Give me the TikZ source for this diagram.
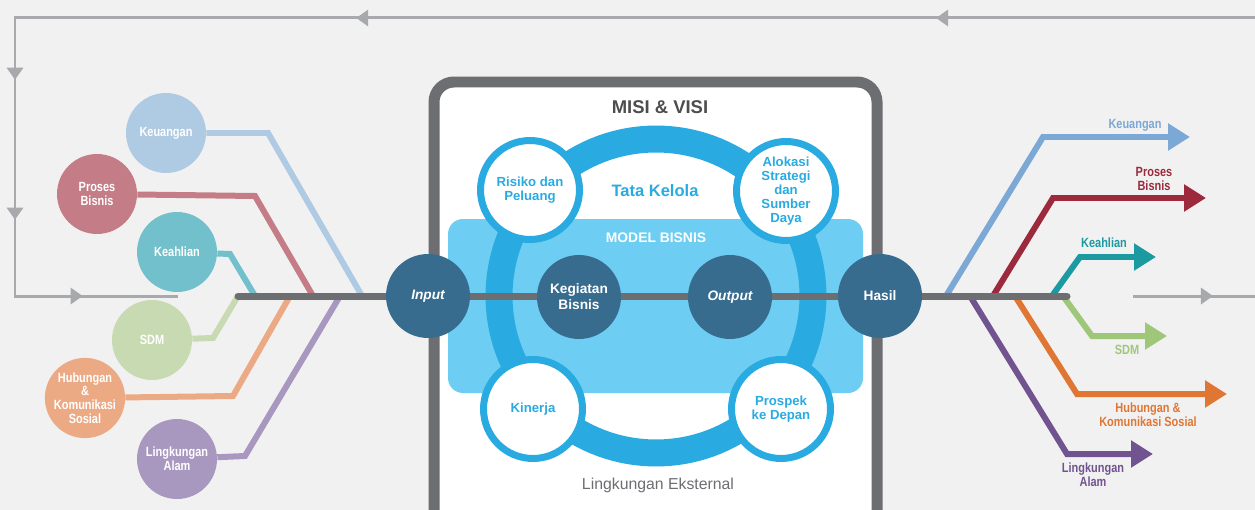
\documentclass[tikz,border=0pt]{standalone}
\usepackage{fontspec}
\setmainfont{Liberation Sans}
\newfontfamily\condfont[FakeStretch=0.82]{Liberation Sans}
\usepackage{tikz}
\definecolor{paper}{HTML}{F1F1F1}
\definecolor{boxgray}{HTML}{6D6E71}
\definecolor{titlegray}{HTML}{4D4D4F}
\definecolor{fbgray}{HTML}{A7A9AC}
\definecolor{ringblue}{HTML}{29ABE2}
\definecolor{modelblue}{HTML}{6DCDF2}
\definecolor{hubblue}{HTML}{386C8F}
% capitals, left (input) side
\definecolor{keuL}{HTML}{AFCBE3}
\definecolor{prosL}{HTML}{C47D87}
\definecolor{keahL}{HTML}{72C0CB}
\definecolor{sdmL}{HTML}{C8DAB1}
\definecolor{hubL}{HTML}{ECAA84}
\definecolor{lingL}{HTML}{A898BF}
% capitals, right (outcome) side
\definecolor{keuR}{HTML}{7CA8D6}
\definecolor{prosR}{HTML}{9C2A3C}
\definecolor{keahR}{HTML}{1C9AA1}
\definecolor{sdmR}{HTML}{9FC77A}
\definecolor{hubR}{HTML}{E07633}
\definecolor{lingR}{HTML}{715390}
\usetikzlibrary{arrows.meta, positioning, backgrounds, decorations.markings}

\begin{document}
\begin{tikzpicture}[
    x=0.02cm, y=-0.02cm,
    capital/.style={circle, minimum size=1.6cm, inner sep=0pt, align=center,
                  text=white, font=\condfont\bfseries\fontsize{7.6}{7.8}\selectfont},
    hub/.style={circle, fill=hubblue, minimum size=1.68cm, inner sep=0pt,
                  align=center, text=white, font=\bfseries\fontsize{7.8}{9.1}\selectfont},
    pillar/.style={circle, draw=ringblue, line width=0.14cm, fill=white,
                  minimum size=1.98cm, inner sep=0pt, align=center,
                  text=ringblue, font=\bfseries\fontsize{7.5}{7.9}\selectfont},
    outlabel/.style={inner sep=0pt, align=center,
                  font=\condfont\bfseries\fontsize{7.6}{7.8}\selectfont},
    inline/.style={line width=0.12cm},
    outarrow/.style={line width=0.12cm, -{Triangle[length=0.44cm, width=0.52cm]}},
    mainline/.style={boxgray, line width=0.14cm, line cap=round},
    fbline/.style={fbgray, line width=0.06cm, postaction={decorate}}
]
    \useasboundingbox (0,0) rectangle (1255,510);

    % Input capitals
    \node[capital, fill=keuL] (c-keu) at (166,133) {Keuangan};
    \node[capital, fill=prosL] (c-pros) at (97,194) {Proses\\Bisnis};
    \node[capital, fill=keahL] (c-keah) at (177,252) {Keahlian};
    \node[capital, fill=sdmL] (c-sdm) at (152,340) {SDM};
    \node[capital, fill=hubL] (c-hub) at (85,398) {Hubungan\\\&\\Komunikasi\\Sosial};
    \node[capital, fill=lingL] (c-ling) at (177,459) {Lingkungan\\Alam};

    % Hubs on the main line
    \node[hub] (input) at (428,296) {\itshape Input};
    \node[hub] (kegiatan) at (579,297) {Kegiatan\\Bisnis};
    \node[hub] (output) at (730,297) {\itshape Output};
    \node[hub] (hasil) at (880,296) {Hasil};

    % Governance pillars
    \node[pillar] (risiko) at (530,190) {Risiko dan\\Peluang};
    \node[pillar] (alokasi) at (786,191) {Alokasi\\Strategi\\dan\\Sumber\\Daya};
    \node[pillar] (kinerja) at (533,409) {Kinerja};
    \node[pillar] (prospek) at (781,409) {Prospek\\ke Depan};

    % Titles
    \node[text=titlegray, font=\bfseries\fontsize{10.5}{12}\selectfont] (misi) at (660,107) {MISI \& VISI};
    \node[text=ringblue, font=\bfseries\fontsize{9.4}{11}\selectfont] (tata) at (655,191) {Tata Kelola};
    \node[text=white, font=\bfseries\fontsize{7.9}{9}\selectfont] (model) at (656,238) {MODEL BISNIS};
    \node[text=boxgray, font=\fontsize{9}{10}\selectfont] (eksternal) at (658,485) {Lingkungan Eksternal};

    % Outcome labels
    \node[outlabel, text=keuR] (o-keu) at (1135,125) {Keuangan};
    \node[outlabel, text=prosR] (o-pros) at (1154,179) {Proses\\Bisnis};
    \node[outlabel, text=keahR] (o-keah) at (1104,243) {Keahlian};
    \node[outlabel, text=sdmR] (o-sdm) at (1127,350) {SDM};
    \node[outlabel, text=hubR] (o-hub) at (1148,415) {Hubungan \&\\Komunikasi Sosial};
    \node[outlabel, text=lingR] (o-ling) at (1093,475) {Lingkungan\\Alam};

    % Main line ends and junctions
    \coordinate (ml-l) at (238,296);
    \coordinate (ml-r) at (1067,296);
    \coordinate (j-keu) at (362,296);
    \coordinate (j-pros) at (313,296);
    \coordinate (j-keah) at (255,296);
    \coordinate (j-sdm) at (238,296);
    \coordinate (j-hub) at (290,296);
    \coordinate (j-ling) at (340,296);
    \coordinate (k-keu) at (946,296);
    \coordinate (k-pros) at (993,296);
    \coordinate (k-keah) at (1052,296);
    \coordinate (k-sdm) at (1063,296);
    \coordinate (k-hub) at (1015,296);
    \coordinate (k-ling) at (970,296);
    % Arrow tips
    \coordinate (t-keu) at (1190,137);
    \coordinate (t-pros) at (1206,198);
    \coordinate (t-keah) at (1156,257);
    \coordinate (t-sdm) at (1167,336);
    \coordinate (t-hub) at (1227,394);
    \coordinate (t-ling) at (1153,454);
    % Feedback loop
    \coordinate (fb-in) at (1255,18);
    \coordinate (fb-turn) at (15,296);
    \coordinate (fb-out) at (178,296);
    \coordinate (fb-src) at (1133,296);
    \coordinate (fb-end) at (1255,296);

    \begin{scope}[on background layer]
        \fill[paper] (0,0) rectangle (1255,510);

        % Feedback loop
        \draw[fbline, decoration={markings,
            mark=at position 6.38cm with {\arrow{Triangle[length=0.24cm, width=0.32cm]}},
            mark=at position 17.98cm with {\arrow{Triangle[length=0.24cm, width=0.32cm]}},
            mark=at position 26.04cm with {\arrow{Triangle[length=0.24cm, width=0.32cm]}},
            mark=at position 28.84cm with {\arrow{Triangle[length=0.24cm, width=0.32cm]}},
            mark=at position 31.72cm with {\arrow{Triangle[length=0.24cm, width=0.32cm]}}}]
            (fb-in) -| (fb-turn) -- (fb-out);
        \draw[fbline, decoration={markings,
            mark=at position 1.6cm with {\arrow{Triangle[length=0.24cm, width=0.32cm]}}}]
            (fb-src) -- (fb-end);

        % Frame and business model
        \draw[boxgray, fill=white, line width=0.22cm, rounded corners=0.4cm]
            (434,82) rectangle (877,540);
        \fill[modelblue, rounded corners=0.3cm] (448,219) rectangle (863,393);
        \draw[ringblue, line width=0.54cm] (656,296) circle[radius=3.14cm];

        % Input lines
        \draw[inline, keuL] (c-keu) -- (268,133) -- (j-keu);
        \draw[inline, prosL] (c-pros) -- (255,196) -- (j-pros);
        \draw[inline, keahL] (c-keah) -- (230,254) -- (j-keah);
        \draw[inline, sdmL] (c-sdm) -- (213,338) -- (j-sdm);
        \draw[inline, hubL] (c-hub) -- (233,396) -- (j-hub);
        \draw[inline, lingL] (c-ling) -- (245,456) -- (j-ling);

        % Outcome arrows
        \draw[outarrow, keuR] (k-keu) -- (1043,137) -- (t-keu);
        \draw[outarrow, prosR] (k-pros) -- (1053,198) -- (t-pros);
        \draw[outarrow, keahR] (k-keah) -- (1080,257) -- (t-keah);
        \draw[outarrow, sdmR] (k-sdm) -- (1092,336) -- (t-sdm);
        \draw[outarrow, hubR] (k-hub) -- (1077,394) -- (t-hub);
        \draw[outarrow, lingR] (k-ling) -- (1067,454) -- (t-ling);

        \draw[mainline] (ml-l) -- (ml-r);
    \end{scope}
\end{tikzpicture}
\end{document}
